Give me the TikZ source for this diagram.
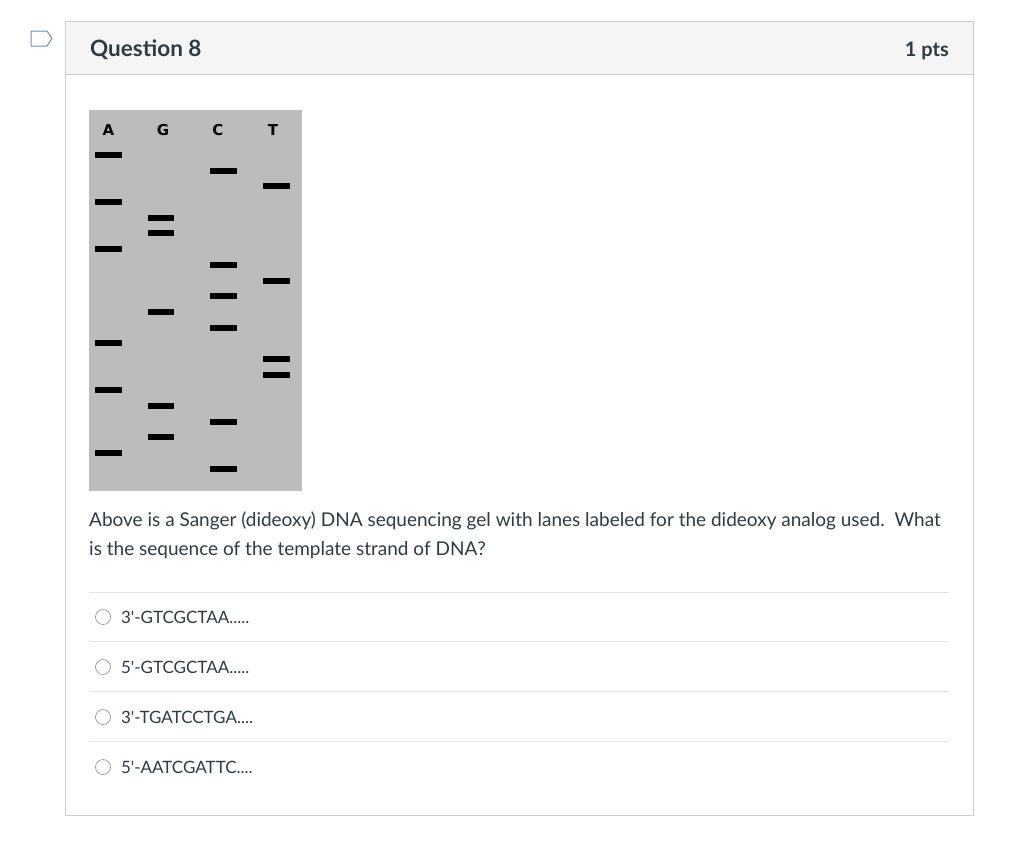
\documentclass[tikz,border=0pt]{standalone}
\usepackage{fontspec}
\setmainfont{Lato}
\newfontfamily\gelfont{DejaVu Sans}
\usepackage{tikz}
\usetikzlibrary{positioning}
\definecolor{ink}{HTML}{2D3B45}
\definecolor{frame}{HTML}{C7CDD1}
\definecolor{head}{HTML}{F5F5F5}
\definecolor{rule}{HTML}{E2E5E7}
\definecolor{gel}{HTML}{BCBCBC}
\definecolor{tag}{HTML}{6E93B3}
\newcommand{\pr}{\textquotesingle}
\tikzset{
  lane/.style={font=\gelfont\fontsize{15}{15}\selectfont\bfseries, text=black, inner sep=0pt},
  band/.style={fill=black, draw=none},
  answer/.style={font=\fontsize{17}{17}\selectfont, text=ink, anchor=west, inner sep=0pt},
  radio/.style={circle, draw=black!45, fill=white, minimum size=15pt, inner sep=0pt, line width=0.6pt},
}
\begin{document}
\begin{tikzpicture}[x=1pt,y=-1pt]
  \useasboundingbox (0,0) rectangle (1024,846);

  % Frame
  \fill[head] (65,21) rectangle (973,74);
  \draw[frame, line width=1pt] (65,21) rectangle (973,815);
  \draw[frame, line width=1pt] (65,74) -- (973,74);
  \draw[tag, line width=1pt, line join=round] (31,31) -- (47,31) -- (52,38.5) -- (47,46) -- (31,46) -- cycle;

  % Header
  \node[anchor=base west, inner sep=0pt, text=ink, font=\fontsize{22.5}{22.5}\selectfont\bfseries] (title) at (90,56) {Question 8};
  \node[anchor=base east, inner sep=0pt, text=ink, font=\fontsize{20}{20}\selectfont\bfseries] (pts) at (949,56) {1 pts};

  % Gel
  \fill[gel] (89,110) rectangle (302,491);
  \node[lane] (laneA) at (108.5,130) {A};
  \node[lane] (laneG) at (163,130) {G};
  \node[lane] (laneC) at (218,130) {C};
  \node[lane] (laneT) at (273,130) {T};
  \foreach \y in {155,202,249,343,390,453}
    \fill[band] (95,\y-3) rectangle (122,\y+3);
  \foreach \y in {218,233,312,406,437}
    \fill[band] (148,\y-3) rectangle (174,\y+3);
  \foreach \y in {171,265,296,328,422,469}
    \fill[band] (210,\y-3) rectangle (237,\y+3);
  \foreach \y in {186,281,359,375}
    \fill[band] (263,\y-3) rectangle (290,\y+3);

  % Question text
  \node[anchor=base west, inner sep=0pt, text=ink, font=\fontsize{19}{19}\selectfont] (line1) at (89,526) {Above is a Sanger (dideoxy) DNA sequencing gel with lanes labeled for the dideoxy analog used.\ \ What};
  \node[anchor=base west, inner sep=0pt, text=ink, font=\fontsize{19}{19}\selectfont] (line2) at (89,555) {is the sequence of the template strand of DNA?};

  % Answers
  \foreach \y in {592,641,691,741}
    \draw[rule, line width=1pt] (89,\y) -- (949,\y);
  \node[radio] (r1) at (103,617) {};
  \node[radio] (r2) at (103,667) {};
  \node[radio] (r3) at (103,717) {};
  \node[radio] (r4) at (103,767) {};
  \node[answer, right=10pt of r1] (a1) {3\pr-GTCGCTAA.....};
  \node[answer, right=10pt of r2] (a2) {5\pr-GTCGCTAA.....};
  \node[answer, right=10pt of r3] (a3) {3\pr-TGATCCTGA....};
  \node[answer, right=10pt of r4] (a4) {5\pr-AATCGATTC....};

\end{tikzpicture}
\end{document}
